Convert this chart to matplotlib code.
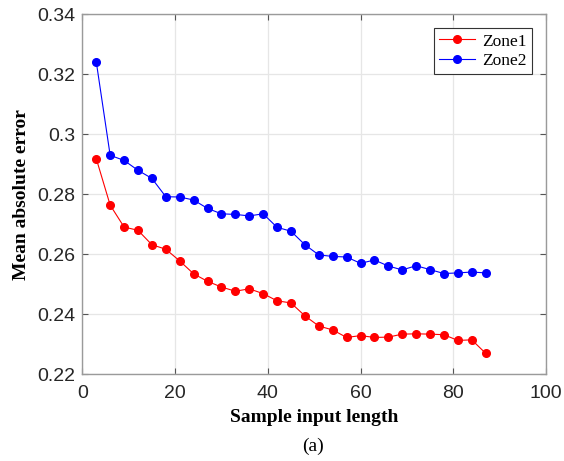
import numpy as np
import matplotlib
matplotlib.use("Agg")
from matplotlib import pyplot as plt

# Sample input lengths
lengths = list(range(3, 88, 3))

# Mean absolute error per zone
zone1 = [0.2919, 0.2764, 0.2691, 0.2680, 0.2632, 0.2617, 0.2578, 0.2535, 0.2510, 0.2491,
         0.2477, 0.2485, 0.2469, 0.2445, 0.2438, 0.2395, 0.2361, 0.2348, 0.2323, 0.2329,
         0.2323, 0.2324, 0.2334, 0.2335, 0.2334, 0.2332, 0.2313, 0.2315, 0.2270]
zone2 = [0.3242, 0.2930, 0.2913, 0.2880, 0.2853, 0.2792, 0.2791, 0.2781, 0.2753, 0.2735,
         0.2733, 0.2728, 0.2735, 0.2690, 0.2677, 0.2632, 0.2598, 0.2593, 0.2591, 0.2570,
         0.2581, 0.2561, 0.2548, 0.2562, 0.2549, 0.2536, 0.2538, 0.2541, 0.2538]

x_ticks = [0, 20, 40, 60, 80, 100]
y_ticks = [0.22, 0.24, 0.26, 0.28, 0.30, 0.32, 0.34]
y_tick_labels = ["0.22", "0.24", "0.26", "0.28", "0.3", "0.32", "0.34"]

serif = ["Liberation Serif", "DejaVu Serif"]
sans = ["Liberation Sans", "DejaVu Sans"]

fig = plt.figure(figsize=(5.64, 4.61), dpi=100)
ax = fig.add_axes([0.146, 0.188, 0.822, 0.781])

# Plot both zones
ax.plot(lengths, zone1, '-o', color='#ff0000', lw=0.8, ms=5.5, label='Zone1')
ax.plot(lengths, zone2, '-o', color='#0000ff', lw=0.8, ms=5.5, label='Zone2')

# Axes styling (MATLAB-like box)
ax.set_xlim(0, 100)
ax.set_ylim(0.22, 0.34)
ax.set_xticks(x_ticks)
ax.set_yticks(y_ticks)
ax.set_yticklabels(y_tick_labels)
ax.grid(True, color='#e6e6e6', lw=0.9)
ax.set_axisbelow(True)
ax.tick_params(direction='in', top=True, right=True, length=4, width=0.8,
               color='#555555', labelsize=14, labelcolor='#262626')
ax.tick_params(axis='x', pad=8)
ax.tick_params(axis='y', pad=5)
for lbl in ax.get_xticklabels() + ax.get_yticklabels():
    lbl.set_family(sans)
for sp in ax.spines.values():
    sp.set_color('#9a9a9a')
    sp.set_linewidth(1.0)

ax.set_xlabel('Sample input length', family=serif, fontweight='bold', fontsize=14, labelpad=5)
ax.set_ylabel('Mean absolute error', family=serif, fontweight='bold', fontsize=14, labelpad=5)
fig.text(0.555, 0.022, '(a)', family=serif, fontsize=14, ha='center')

leg = ax.legend(loc='upper right', prop={'family': serif, 'size': 12.5}, fancybox=False,
                edgecolor='#333333', framealpha=1, handlelength=2.1, borderpad=0.3,
                labelspacing=0.2, handletextpad=0.4, borderaxespad=0.8)
leg.get_frame().set_linewidth(0.8)

fig.savefig('out.png', dpi=100)
